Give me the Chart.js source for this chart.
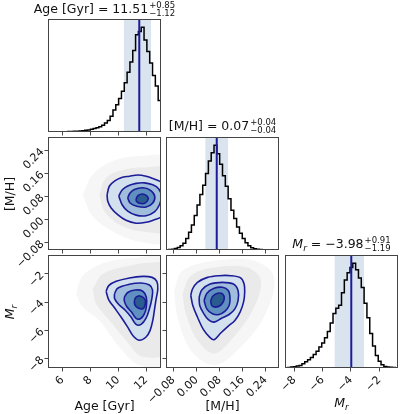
<!DOCTYPE html>
<html>
<head>
<meta charset="utf-8">
<script src="https://cdn.jsdelivr.net/npm/chart.js"></script>
<style>
  body { margin: 0; background: #fff; }
  #wrap { position: relative; width: 400px; height: 414px; overflow: hidden; font-family: "DejaVu Sans", sans-serif; color: #111; }
  canvas { position: absolute; left: 0; top: 0; }
  .t { position: absolute; white-space: nowrap; font-size: 12.5px; line-height: 13px; transform: translateX(-50%); }
  .ss { display: inline-flex; flex-direction: column; font-size: 8.5px; line-height: 8px; vertical-align: 5px; margin-left: 1px; }
  .yl { position: absolute; white-space: nowrap; font-size: 12.5px; line-height: 13px; transform: translate(-50%, -50%) rotate(-90deg); }
  sub { font-size: 9px; vertical-align: -3px; line-height: 0; }
</style>
</head>
<body>
<div id="wrap">
  <canvas id="c00" width="400" height="414"></canvas>
  <canvas id="c10" width="400" height="414"></canvas>
  <canvas id="c11" width="400" height="414"></canvas>
  <canvas id="c20" width="400" height="414"></canvas>
  <canvas id="c21" width="400" height="414"></canvas>
  <canvas id="c22" width="400" height="414"></canvas>

  <div class="t" style="left:104.5px;top:1px">Age [Gyr] = 11.51<span class="ss"><span>+0.85</span><span>−1.12</span></span></div>
  <div class="t" style="left:222.5px;top:118px">[M/H] = 0.07<span class="ss"><span>+0.04</span><span>−0.04</span></span></div>
  <div class="t" style="left:341.5px;top:236px"><i>M</i><sub><i>r</i></sub> = −3.98<span class="ss"><span>+0.91</span><span>−1.19</span></span></div>

  <div class="t" style="left:104.5px;top:399px">Age [Gyr]</div>
  <div class="t" style="left:222.5px;top:399px">[M/H]</div>
  <div class="t" style="left:341.5px;top:396px"><i>M</i><sub><i>r</i></sub></div>
  <div class="yl" style="left:9px;top:193.5px">[M/H]</div>
  <div class="yl" style="left:9px;top:311.5px"><i>M</i><sub><i>r</i></sub></div>
</div>
<script>
// axis ranges and ticks
const ageRange = [4.96, 13.07];
const mhRange = [-0.106, 0.286];
const mrRange = [-8.66, -0.68];
const ageTicks = [6, 8, 10, 12];
const ageTickLabels = ['6', '8', '10', '12'];
const mhTicks = [-0.08, 0, 0.08, 0.16, 0.24];
const mhTickLabels = ['−0.08', '0.00', '0.08', '0.16', '0.24'];
const mrTicks = [-8, -6, -4, -2];
const mrTickLabels = ['−8', '−6', '−4', '−2'];

// 1D histograms, 40 bins across each range (normalised to the peak)
const ageHist = [0.001, 0.001, 0.001, 0.002, 0.002, 0.003, 0.003, 0.004, 0.005, 0.006,
  0.008, 0.010, 0.013, 0.016, 0.020, 0.027, 0.033, 0.040, 0.050, 0.065,
  0.085, 0.110, 0.150, 0.210, 0.260, 0.320, 0.390, 0.470, 0.570, 0.670,
  0.780, 0.930, 0.960, 1.000, 0.880, 0.770, 0.660, 0.540, 0.440, 0.300];
const mhHist = [0.002, 0.004, 0.008, 0.014, 0.025, 0.040, 0.065, 0.110, 0.170, 0.240,
  0.330, 0.430, 0.530, 0.620, 0.730, 0.850, 0.930, 1.000, 0.920, 0.820,
  0.710, 0.610, 0.490, 0.380, 0.300, 0.220, 0.160, 0.110, 0.070, 0.040,
  0.022, 0.013, 0.008, 0.005, 0.003, 0.002, 0.001, 0.001, 0.000, 0.000];
const mrHist = [0.003, 0.005, 0.009, 0.012, 0.018, 0.025, 0.040, 0.060, 0.080, 0.100,
  0.130, 0.160, 0.200, 0.240, 0.290, 0.350, 0.430, 0.520, 0.570, 0.600,
  0.720, 0.840, 0.910, 0.960, 1.000, 0.940, 0.860, 0.770, 0.620, 0.480,
  0.330, 0.210, 0.120, 0.065, 0.030, 0.015, 0.010, 0.006, 0.004, 0.003];

// median and 16/84 percentile band
const ageQ = [10.39, 11.51, 12.36];
const mhQ = [0.03, 0.07, 0.11];
const mrQ = [-5.17, -3.98, -3.07];

// Age vs [M/H]: point-cloud envelopes and the four contour levels
const ageMhCloud = [[7.45, 0.086], [8.17, 0.156], [9.61, 0.203], [11.52, 0.220], [13.7, 0.209], [13.7, -0.071], [11.52, -0.077], [9.61, -0.042], [8.17, 0.011]];
const ageMhCore = [[8.65, 0.086], [9.13, 0.145], [10.56, 0.174], [12.0, 0.180], [13.7, 0.174], [13.7, -0.036], [11.76, -0.042], [10.08, -0.018], [9.01, 0.028]];
const ageMhL1 = [[9.20, 0.086], [9.37, 0.116], [9.73, 0.133], [10.20, 0.145], [10.80, 0.150], [11.40, 0.154], [12.00, 0.150], [12.48, 0.142], [12.96, 0.133], [13.44, 0.116], [13.80, 0.075], [13.44, 0.022], [13.08, 0.008], [12.60, -0.001], [12.00, -0.010], [11.28, -0.013], [10.56, -0.003], [9.96, 0.017], [9.49, 0.040], [9.25, 0.063]];
const ageMhL2 = [[10.04, 0.081], [10.28, 0.102], [10.68, 0.116], [11.28, 0.125], [11.88, 0.127], [12.48, 0.120], [12.91, 0.106], [13.10, 0.081], [12.96, 0.051], [12.60, 0.026], [12.00, 0.013], [11.28, 0.015], [10.68, 0.029], [10.28, 0.051]];
const ageMhL3 = [[10.68, 0.075], [10.85, 0.092], [11.16, 0.104], [11.76, 0.110], [12.29, 0.102], [12.62, 0.081], [12.48, 0.057], [12.00, 0.043], [11.33, 0.046], [10.85, 0.057]];
const ageMhL4 = [[11.28, 0.071], [11.43, 0.083], [11.76, 0.088], [12.07, 0.081], [12.14, 0.069], [11.90, 0.056], [11.52, 0.056], [11.31, 0.063]];

// Age vs M_r
const ageMrCloud = [[6.97, -3.43], [7.45, -2.14], [9.13, -1.20], [11.52, -0.85], [13.7, -0.85], [13.7, -8.46], [11.52, -8.46], [10.08, -7.17], [8.65, -5.30], [7.45, -4.36]];
const ageMrCore = [[8.17, -3.08], [8.89, -2.02], [10.80, -1.44], [12.72, -1.20], [13.7, -1.32], [13.7, -7.40], [11.76, -7.87], [10.56, -6.70], [9.37, -5.30], [8.41, -4.13]];
const ageMrL1 = [[9.13, -3.24], [9.32, -2.84], [9.85, -2.54], [10.80, -2.30], [11.76, -2.19], [12.43, -2.26], [12.77, -2.54], [12.84, -3.08], [12.72, -3.78], [12.60, -4.55], [12.48, -5.30], [12.29, -6.00], [12.00, -6.47], [11.52, -6.70], [11.09, -6.42], [10.68, -5.77], [10.20, -5.06], [9.73, -4.41], [9.32, -3.85]];
const ageMrL2 = [[9.73, -3.43], [9.96, -3.03], [10.80, -2.75], [11.64, -2.66], [12.24, -2.80], [12.46, -3.15], [12.41, -3.78], [12.24, -4.48], [12.00, -5.14], [11.64, -5.58], [11.28, -5.58], [10.92, -5.06], [10.52, -4.60], [10.04, -4.18], [9.75, -3.78]];
const ageMrL3 = [[10.44, -3.66], [10.68, -3.33], [11.23, -3.15], [11.76, -3.24], [12.02, -3.66], [12.02, -4.32], [11.86, -4.88], [11.59, -5.18], [11.28, -5.16], [10.95, -4.71], [10.61, -4.32], [10.44, -3.94]];
const ageMrL4 = [[11.16, -3.90], [11.28, -3.66], [11.57, -3.57], [11.90, -3.78], [11.95, -4.13], [11.76, -4.48], [11.40, -4.41], [11.19, -4.18]];

// [M/H] vs M_r
const mhMrCloud = [[-0.078, -3.19], [-0.049, -1.79], [0.061, -1.09], [0.200, -1.09], [0.269, -2.26], [0.234, -5.06], [0.142, -7.40], [0.061, -8.46], [-0.020, -7.40], [-0.066, -5.06]];
const mhMrCore = [[-0.049, -3.43], [-0.020, -2.14], [0.061, -1.56], [0.176, -1.56], [0.223, -2.49], [0.194, -4.60], [0.119, -6.70], [0.061, -7.64], [0.003, -6.70], [-0.037, -4.83]];
const mhMrL1 = [[-0.020, -3.54], [-0.014, -3.08], [0.003, -2.61], [0.038, -2.26], [0.078, -2.14], [0.119, -2.14], [0.153, -2.30], [0.165, -2.73], [0.167, -3.31], [0.163, -4.01], [0.151, -4.71], [0.133, -5.30], [0.109, -5.72], [0.084, -6.19], [0.061, -6.66], [0.047, -6.52], [0.024, -5.95], [0.003, -5.06], [-0.013, -4.25]];
const mhMrL2 = [[0.009, -3.66], [0.018, -3.15], [0.047, -2.73], [0.090, -2.61], [0.128, -2.73], [0.144, -3.19], [0.144, -3.90], [0.133, -4.48], [0.113, -4.88], [0.084, -5.18], [0.061, -5.42], [0.041, -5.25], [0.024, -4.78], [0.011, -4.25]];
const mhMrL3 = [[0.026, -3.90], [0.036, -3.38], [0.061, -3.03], [0.090, -2.96], [0.110, -3.19], [0.116, -3.71], [0.113, -4.25], [0.099, -4.64], [0.078, -4.88], [0.055, -4.83], [0.036, -4.50]];
const mhMrL4 = [[0.049, -3.94], [0.056, -3.59], [0.073, -3.38], [0.090, -3.43], [0.096, -3.78], [0.086, -4.18], [0.067, -4.36], [0.053, -4.25]];

const W = 400, H = 414;
const cols = [[48, 161], [166, 279], [285, 398]];
const rows = [[19, 132], [137, 250], [255, 368]];
const histTop = 1.08;

const lineBlue = '#1c1c98';
const bandBlue = '#d9e4ef';
const levelFills = ['#d3e0ee', '#a0bedb', '#5f90c0', '#2a5c8f'];

Chart.defaults.font.family = '"DejaVu Sans", sans-serif';
Chart.defaults.font.size = 11;
Chart.defaults.color = '#111';

const frame = {
  id: 'frame',
  afterDatasetsDraw(chart) {
    const { ctx, chartArea: a } = chart;
    ctx.save();
    ctx.strokeStyle = '#444';
    ctx.lineWidth = 1;
    ctx.strokeRect(a.left + 0.5, a.top + 0.5, a.right - a.left - 1, a.bottom - a.top - 1);
    ctx.restore();
  }
};

function axis(s, pos, size) {
  return {
    type: 'linear', position: pos, min: s.min, max: s.max,
    display: s.mode !== 'none',
    border: { display: false },
    grid: { display: true, drawOnChartArea: false, drawTicks: true, tickLength: 3.5, color: '#333', lineWidth: 0.9 },
    ticks: {
      display: s.mode === 'labels', minRotation: 45, maxRotation: 45, padding: 2,
      color: '#111', font: { size: 11 },
      callback: (v, i) => s.labels[i]
    },
    afterBuildTicks: sc => { sc.ticks = s.ticks.map(v => ({ value: v })); },
    afterFit: sc => { if (pos === 'bottom') sc.height = size; else sc.width = size; }
  };
}

function panel(id, col, row, xs, ys, datasets) {
  const box = [cols[col][0], rows[row][0], cols[col][1], rows[row][1]];
  const leftW = ys.mode === 'labels' ? 44 : ys.mode === 'marks' ? 6 : 0;
  const botH = xs.mode === 'labels' ? 40 : xs.mode === 'marks' ? 6 : 0;
  new Chart(document.getElementById(id), {
    type: 'line',
    data: { datasets },
    options: {
      responsive: false, animation: false, events: [],
      layout: { padding: { left: box[0] - leftW, top: box[1], right: W - box[2], bottom: H - box[3] - botH } },
      plugins: { legend: { display: false }, tooltip: { enabled: false } },
      scales: { x: axis(xs, 'bottom', botH), y: axis(ys, 'left', leftW) }
    },
    plugins: [frame]
  });
}

function histSets(range, vals, q) {
  const w = (range[1] - range[0]) / vals.length;
  const pts = [{ x: range[0], y: 0 }];
  vals.forEach((v, i) => pts.push({ x: range[0] + i * w, y: v }));
  pts.push({ x: range[1], y: vals[vals.length - 1] });
  pts.push({ x: range[1], y: 0 });
  return [
    { data: [{ x: q[0], y: histTop }, { x: q[2], y: histTop }], fill: 'origin', backgroundColor: bandBlue, borderWidth: 0, pointRadius: 0, order: 3, clip: 0 },
    { data: pts, stepped: 'before', borderColor: '#000', borderWidth: 1.5, pointRadius: 0, fill: false, order: 2, clip: 0 },
    { data: [{ x: q[1], y: 0 }, { x: q[1], y: histTop }], borderColor: lineBlue, borderWidth: 2, pointRadius: 0, fill: false, order: 1, clip: 0 }
  ];
}

function shape(arr) {
  const pts = arr.map(p => ({ x: p[0], y: p[1] }));
  pts.push({ x: arr[0][0], y: arr[0][1] });
  return pts;
}

function densitySets(cloud, core, levels) {
  const sets = [
    { data: shape(cloud), fill: 'shape', backgroundColor: 'rgba(110,110,110,0.06)', borderWidth: 0, pointRadius: 0, tension: 0.35, order: 20, clip: 0 },
    { data: shape(core), fill: 'shape', backgroundColor: 'rgba(110,110,110,0.09)', borderWidth: 0, pointRadius: 0, tension: 0.35, order: 19, clip: 0 }
  ];
  levels.forEach((lv, i) => {
    sets.push({
      data: shape(lv), fill: 'shape', backgroundColor: levelFills[i],
      borderColor: lineBlue, borderWidth: 1.6, pointRadius: 0, tension: 0.35,
      capBezierPoints: false, order: 10 - i, clip: 0
    });
  });
  return sets;
}

const ageAxis = m => ({ min: ageRange[0], max: ageRange[1], ticks: ageTicks, labels: ageTickLabels, mode: m });
const mhAxis = m => ({ min: mhRange[0], max: mhRange[1], ticks: mhTicks, labels: mhTickLabels, mode: m });
const mrAxis = m => ({ min: mrRange[0], max: mrRange[1], ticks: mrTicks, labels: mrTickLabels, mode: m });
const histAxis = { min: 0, max: histTop, ticks: [], labels: [], mode: 'none' };

panel('c00', 0, 0, ageAxis('marks'), histAxis, histSets(ageRange, ageHist, ageQ));
panel('c11', 1, 1, mhAxis('marks'), histAxis, histSets(mhRange, mhHist, mhQ));
panel('c22', 2, 2, mrAxis('labels'), histAxis, histSets(mrRange, mrHist, mrQ));
panel('c10', 0, 1, ageAxis('marks'), mhAxis('labels'), densitySets(ageMhCloud, ageMhCore, [ageMhL1, ageMhL2, ageMhL3, ageMhL4]));
panel('c20', 0, 2, ageAxis('labels'), mrAxis('labels'), densitySets(ageMrCloud, ageMrCore, [ageMrL1, ageMrL2, ageMrL3, ageMrL4]));
panel('c21', 1, 2, mhAxis('labels'), mrAxis('marks'), densitySets(mhMrCloud, mhMrCore, [mhMrL1, mhMrL2, mhMrL3, mhMrL4]));
</script>
</body>
</html>
